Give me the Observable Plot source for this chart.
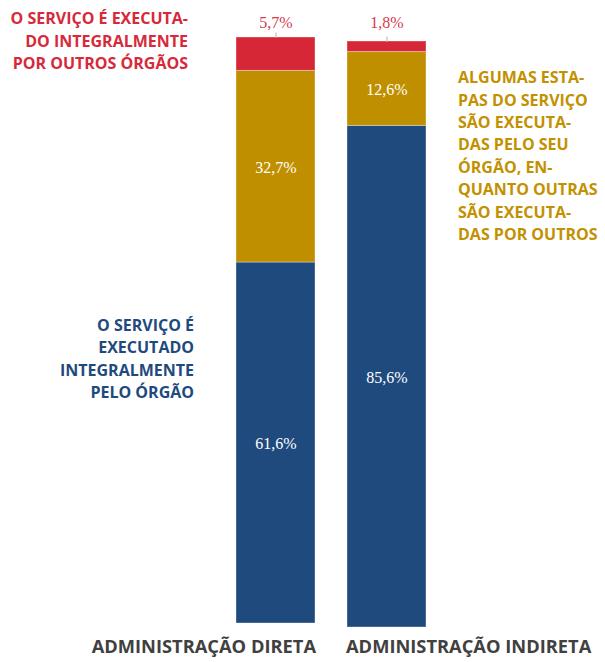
<!DOCTYPE html>
<html><head><meta charset="utf-8">
<script src="https://cdn.jsdelivr.net/npm/d3@7"></script>
<script src="https://cdn.jsdelivr.net/npm/@observablehq/plot@0.6"></script>
<style>body{margin:0;background:#fff}</style>
</head><body><div id="chart"></div>
<script>
// ---- data ----
const categories = ["ADMINISTRAÇÃO DIRETA", "ADMINISTRAÇÃO INDIRETA"];
const series = ["integral", "parcial", "outros"];
const integral = [61.6, 85.6];   // O serviço é executado integralmente pelo órgão
const parcial = [32.7, 12.6];    // Algumas etapas executadas pelo órgão
const outros = [5.7, 1.8];       // Executado integralmente por outros órgãos
const notaOutros = "O SERVIÇO É EXECUTA-\nDO INTEGRALMENTE\nPOR OUTROS ÓRGÃOS";
const notaParcial = "ALGUMAS ESTA-\nPAS DO SERVIÇO\nSÃO EXECUTA-\nDAS PELO SEU\nÓRGÃO, EN-\nQUANTO OUTRAS\nSÃO EXECUTA-\nDAS POR OUTROS";
const notaIntegral = "O SERVIÇO É\nEXECUTADO\nINTEGRALMENTE\nPELO ÓRGÃO";

// ---- styles ----
const colors = ["#1f4a7e", "#bf8f00", "#d62736"];
const textColors = {integral: "#1f4a7e", parcial: "#c29100", outros: "#d62a3b"};
const sans = "'Open Sans', 'DejaVu Sans', sans-serif";
const serif = "'Liberation Serif', 'DejaVu Serif', serif";
const barShift = [0, 4]; // second bar sits slightly lower in the original

const valuesBySeries = {integral, parcial, outros};
const rows = [];
categories.forEach((c, i) => series.forEach(s => rows.push({categoria: c, serie: s, valor: valuesBySeries[s][i]})));
const totals = categories.map((c, i) => ({categoria: c, total: d3.sum(series, s => valuesBySeries[s][i]), valor: outros[i]}));
const fmt = v => v.toFixed(1).replace(".", ",") + "%";
const tickSymbol = {draw(ctx) { ctx.moveTo(0, 0); ctx.lineTo(0, -5); }};

const barMarks = categories.flatMap((c, i) => {
  const sub = rows.filter(d => d.categoria === c);
  return [
    Plot.barY(sub, Plot.stackY({x: "categoria", y: "valor", fill: "serie", order: series, dy: barShift[i], stroke: "#ffffff", strokeOpacity: 0.35, strokeWidth: 1})),
    Plot.text(sub, Plot.stackY({
      filter: d => d.serie !== "outros",
      x: "categoria", y: "valor", z: "serie", order: series, dy: barShift[i] + 1,
      text: d => fmt(d.valor), fill: "white", fontSize: 16, fontFamily: serif
    })),
    Plot.dot([totals[i]], {x: "categoria", y: "total", dy: barShift[i], symbol: tickSymbol, stroke: "#cccccc", fill: "none", r: 3})
  ];
});

const chart = Plot.plot({
  width: 605,
  height: 662,
  marginLeft: 235,
  marginRight: 178,
  marginTop: 37,
  marginBottom: 39,
  x: {domain: categories, paddingInner: 0.2857, paddingOuter: 0, axis: null},
  y: {domain: [0, 100], axis: null},
  color: {domain: series, range: colors},
  marks: [
    ...barMarks,
    Plot.text(totals, {x: "categoria", y: "total", text: d => fmt(d.valor), dy: -15, fill: "#d8394a", fontSize: 16, fontFamily: serif}),
    // annotations
    Plot.text([notaOutros], {x: () => categories[0], y: () => totals[0].total, text: d => d, textAnchor: "end", lineAnchor: "middle", dx: -88, dy: 2, lineHeight: 1.4, fill: textColors.outros, fontSize: 16, fontWeight: 700, fontFamily: sans}),
    Plot.text([notaIntegral], {x: () => categories[0], y: () => integral[0], text: d => d, textAnchor: "end", lineAnchor: "middle", dx: -82, dy: 95, lineHeight: 1.4, fill: textColors.integral, fontSize: 16, fontWeight: 700, fontFamily: sans}),
    Plot.text([notaParcial], {x: () => categories[1], y: () => totals[1].total, text: d => d, textAnchor: "start", lineAnchor: "middle", dx: 71, dy: 117, lineHeight: 1.4, fill: textColors.parcial, fontSize: 16, fontWeight: 700, fontFamily: sans}),
    // category labels
    Plot.text([categories[0]], {x: d => d, frameAnchor: "bottom", text: d => d, textAnchor: "end", dx: 40, dy: 29, fill: "#404040", fontSize: 18.3, fontWeight: 700, fontFamily: sans}),
    Plot.text([categories[1]], {x: d => d, frameAnchor: "bottom", text: d => d, textAnchor: "start", dx: -41, dy: 29, fill: "#404040", fontSize: 18.3, fontWeight: 700, fontFamily: sans})
  ]
});
document.getElementById("chart").appendChild(chart);
</script>
</body></html>
